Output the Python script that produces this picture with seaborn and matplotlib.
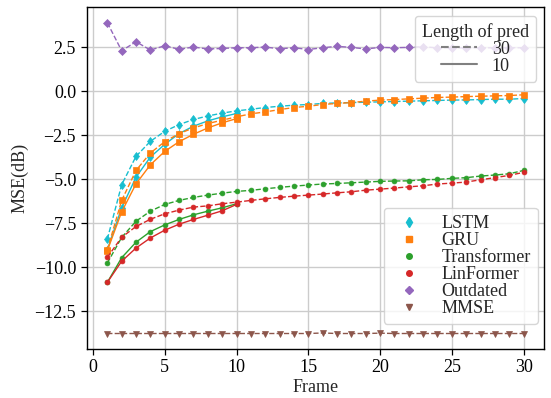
import numpy as np
import pandas as pd
import matplotlib
matplotlib.use("Agg")
import matplotlib.pyplot as plt
import seaborn as sns
from matplotlib.lines import Line2D

# ---------------- data ----------------
frames30 = list(range(1, 31))
frames10 = list(range(1, 11))

lstm_30 = [-8.40, -5.31, -3.70, -2.85, -2.28, -1.90, -1.61, -1.41, -1.25, -1.12,
           -1.03, -0.93, -0.86, -0.80, -0.76, -0.70, -0.67, -0.65, -0.63, -0.61,
           -0.59, -0.57, -0.55, -0.53, -0.51, -0.50, -0.48, -0.46, -0.46, -0.42]
lstm_10 = [-9.00, -6.62, -4.88, -3.74, -3.02, -2.41, -1.99, -1.69, -1.46, -1.27]

gru_30 = [-9.00, -6.20, -4.50, -3.51, -2.87, -2.41, -2.09, -1.84, -1.65, -1.46,
          -1.29, -1.18, -1.05, -0.93, -0.86, -0.76, -0.70, -0.65, -0.57, -0.51,
          -0.48, -0.44, -0.40, -0.36, -0.34, -0.31, -0.29, -0.27, -0.25, -0.21]
gru_10 = [-9.05, -6.85, -5.26, -4.18, -3.42, -2.87, -2.45, -2.09, -1.80, -1.56]

trans_30 = [-9.75, -8.30, -7.38, -6.81, -6.43, -6.20, -6.03, -5.90, -5.79, -5.69,
            -5.63, -5.54, -5.46, -5.39, -5.33, -5.27, -5.24, -5.20, -5.16, -5.12,
            -5.10, -5.09, -5.03, -5.01, -4.95, -4.91, -4.82, -4.76, -4.69, -4.50]
trans_10 = [-10.85, -9.45, -8.57, -7.97, -7.59, -7.28, -7.02, -6.81, -6.62, -6.39]

lin_30 = [-9.43, -8.29, -7.68, -7.27, -6.96, -6.75, -6.58, -6.51, -6.39, -6.30,
          -6.20, -6.11, -6.03, -5.96, -5.90, -5.84, -5.77, -5.71, -5.62, -5.56,
          -5.50, -5.43, -5.37, -5.27, -5.22, -5.16, -5.03, -4.91, -4.78, -4.61]
lin_10 = [-10.85, -9.65, -8.90, -8.33, -7.89, -7.55, -7.28, -7.04, -6.79, -6.43]

outdated_30 = [3.88, 2.29, 2.80, 2.33, 2.57, 2.37, 2.50, 2.39, 2.42, 2.46,
               2.46, 2.50, 2.40, 2.46, 2.36, 2.46, 2.54, 2.48, 2.39, 2.48,
               2.46, 2.48, 2.52, 2.45, 2.47, 2.44, 2.47, 2.45, 2.46, 2.46]

mmse_30 = [-13.75, -13.75, -13.75, -13.75, -13.75, -13.75, -13.75, -13.75, -13.75, -13.75,
           -13.75, -13.75, -13.75, -13.75, -13.75, -13.72, -13.75, -13.75, -13.75, -13.73,
           -13.75, -13.75, -13.75, -13.75, -13.75, -13.75, -13.75, -13.75, -13.75, -13.75]

models = ["LSTM", "GRU", "Transformer", "LinFormer", "Outdated", "MMSE"]
pred_lengths = ["30", "10"]

# ---------------- style ----------------
sns.set_style("ticks", {"axes.grid": True, "grid.color": "#cccccc",
                        "axes.edgecolor": "black"})
plt.rcParams["font.family"] = ["Liberation Serif", "DejaVu Serif"]
plt.rcParams["mathtext.fontset"] = "stix"
FS = 13

colors = {"LSTM": "#17becf", "GRU": "#ff7f0e", "Transformer": "#2ca02c",
          "LinFormer": "#d62728", "Outdated": "#9467bd", "MMSE": "#8c564b"}
markers = {"LSTM": "d", "GRU": "s", "Transformer": "o", "LinFormer": "o",
           "Outdated": "D", "MMSE": "v"}
msize = {"LSTM": 4.5, "GRU": 4.0, "Transformer": 3.5, "LinFormer": 3.5,
         "Outdated": 3.8, "MMSE": 4.0}

series = [
    ("LSTM", "30", frames30, lstm_30), ("LSTM", "10", frames10, lstm_10),
    ("GRU", "30", frames30, gru_30), ("GRU", "10", frames10, gru_10),
    ("Transformer", "30", frames30, trans_30), ("Transformer", "10", frames10, trans_10),
    ("LinFormer", "30", frames30, lin_30), ("LinFormer", "10", frames10, lin_10),
    ("Outdated", "30", frames30, outdated_30),
    ("MMSE", "30", frames30, mmse_30),
]

fig, ax = plt.subplots(figsize=(5.51, 3.98), dpi=100)
fig.subplots_adjust(left=0.157, right=0.988, bottom=0.123, top=0.982)

for name, length, fx, vals in series:
    df = pd.DataFrame({"Frame": fx, "MSE": vals})
    sns.lineplot(data=df, x="Frame", y="MSE", ax=ax, color=colors[name],
                 marker=markers[name], markersize=msize[name],
                 markeredgewidth=0.5, markeredgecolor=colors[name],
                 linestyle="--" if length == "30" else "-",
                 linewidth=1.0, legend=False)

ax.grid(True, color="#cccccc", linewidth=1.0)
for s in ax.spines.values():
    s.set_color("black")
    s.set_linewidth(1.0)
ax.tick_params(axis="both", which="major", labelsize=FS, length=4,
               width=0.9, color="black", labelcolor="black", direction="out",
               bottom=True, left=True)
ax.set_xlabel("Frame", fontsize=FS, labelpad=2)
ax.set_ylabel("MSE(dB)", fontsize=FS)
ax.set_xticks([0, 5, 10, 15, 20, 25, 30])
ax.set_yticks([2.5, 0.0, -2.5, -5.0, -7.5, -10.0, -12.5])

# legend 1: length of prediction
len_handles = [Line2D([], [], color="gray", linestyle="--", linewidth=1.5),
               Line2D([], [], color="gray", linestyle="-", linewidth=1.5)]
leg1 = ax.legend(len_handles, pred_lengths, title="Length of pred",
                 loc="upper right", bbox_to_anchor=(0.982, 0.975),
                 borderaxespad=0, fontsize=FS, title_fontsize=FS,
                 labelspacing=0.0, handletextpad=0.8)
ax.add_artist(leg1)

# legend 2: models (markers only)
mod_handles = [Line2D([], [], color=colors[m], marker=markers[m], linestyle="none",
                      markersize=msize[m] + 0.5) for m in models]
ax.legend(mod_handles, models, loc="lower right", bbox_to_anchor=(0.986, 0.073),
          borderaxespad=0, fontsize=FS, labelspacing=0.0, handletextpad=0.8)

fig.savefig("out.png", dpi=100)
